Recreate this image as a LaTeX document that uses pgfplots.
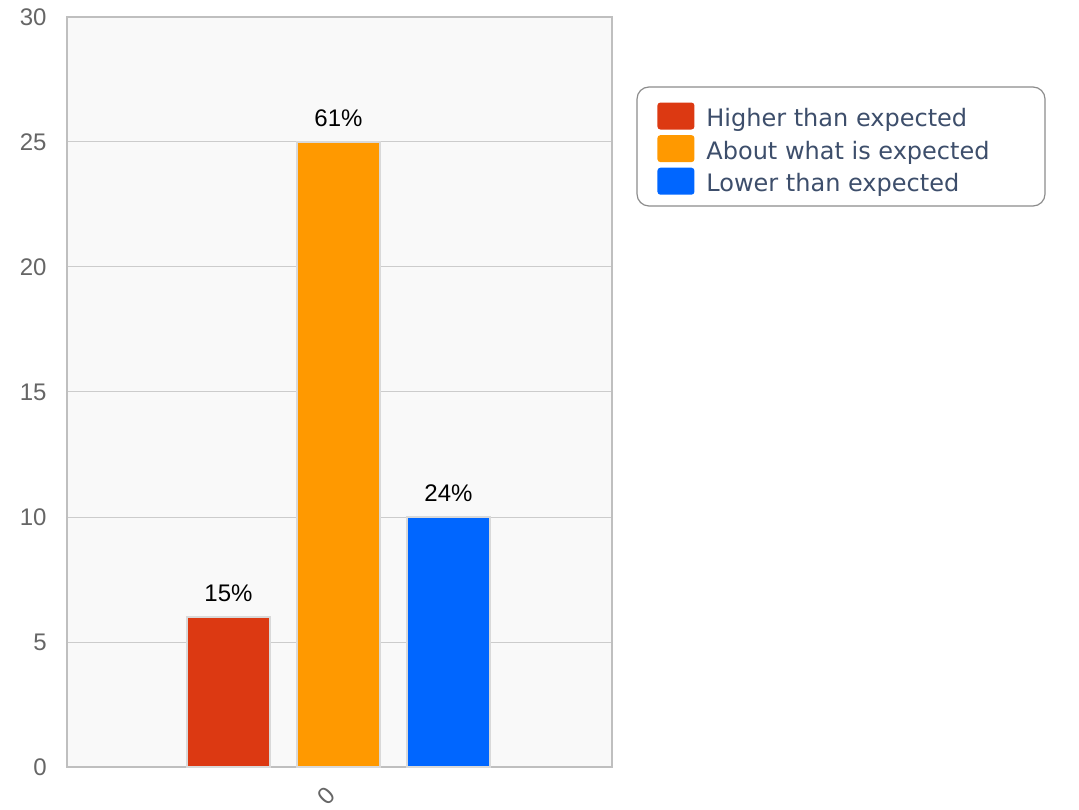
\documentclass[border=0pt]{standalone}
\usepackage{pgfplots}
\pgfplotsset{compat=1.18}
\usepackage{fontspec}
\setmainfont{Liberation Sans}
\newfontfamily\legfont{DejaVu Sans}
\definecolor{cred}{HTML}{DC3912}
\definecolor{corange}{HTML}{FF9900}
\definecolor{cblue}{HTML}{0066FF}
\definecolor{legtext}{HTML}{3D4E6B}
\definecolor{plotbg}{HTML}{F9F9F9}
\begin{document}
\begin{tikzpicture}
\useasboundingbox[fill=white] (0,0) rectangle (539.5pt,404.5pt);
\draw[black!45, line width=0.6pt, rounded corners=6pt, fill=white] (318.5pt,301.5pt) rectangle (522.5pt,361pt);
\begin{axis}[
  at={(33.5pt,21pt)}, anchor=south west,
  scale only axis, width=272.5pt, height=375pt,
  xmin=0, xmax=545, ymin=0, ymax=30,
  ytick={0,5,...,30},
  xtick={271.5}, xticklabels={0},
  /pgf/number format/assume math mode=true,
  ymajorgrids, grid style={color=black!20, line width=0.5pt},
  axis line style={black!25, line width=1pt},
  tick style={draw=none},
  axis background/.style={fill=plotbg},
  yticklabel style={font=\fontsize{12}{14}\selectfont, text=black!60, inner sep=0pt, xshift=-10pt},
  xticklabel style={font=\fontsize{12}{14}\selectfont, text=black!60, yshift=-10pt, xshift=-6pt, rotate=45, anchor=center},
  ybar, bar width=41.5pt,
  point meta=explicit symbolic,
  nodes near coords,
  nodes near coords style={font=\fontsize{12}{14}\selectfont, text=black, anchor=south, inner sep=0pt, yshift=7pt},
  legend image code/.code={\fill[#1, draw=none, rounded corners=1.5pt] (0pt,-8.8pt) rectangle (18.5pt,4.7pt);},
  legend style={at={(axis description cs:1.0459,0.9053)}, anchor=north west,
    draw=none, fill=none,
    font=\legfont\fontsize{12}{14}\selectfont, text=legtext,
    inner xsep=10pt, inner ysep=3.5pt, row sep=-0.75pt,
    nodes={inner sep=0pt, text height=15.5pt, text depth=1pt},
    /tikz/every odd column/.append style={column sep=6pt}},
  legend cell align=left,
]
\addplot[fill=cred, draw=black!15, line width=1pt, bar shift=0pt] coordinates {(161.5,6) [15\%]};
\addlegendentry{Higher than expected}
\addplot[fill=corange, draw=black!15, line width=1pt, bar shift=0pt] coordinates {(271.5,25) [61\%]};
\addlegendentry{About what is expected}
\addplot[fill=cblue, draw=black!15, line width=1pt, bar shift=0pt] coordinates {(381.5,10) [24\%]};
\addlegendentry{Lower than expected}
\end{axis}
\end{tikzpicture}
\end{document}
